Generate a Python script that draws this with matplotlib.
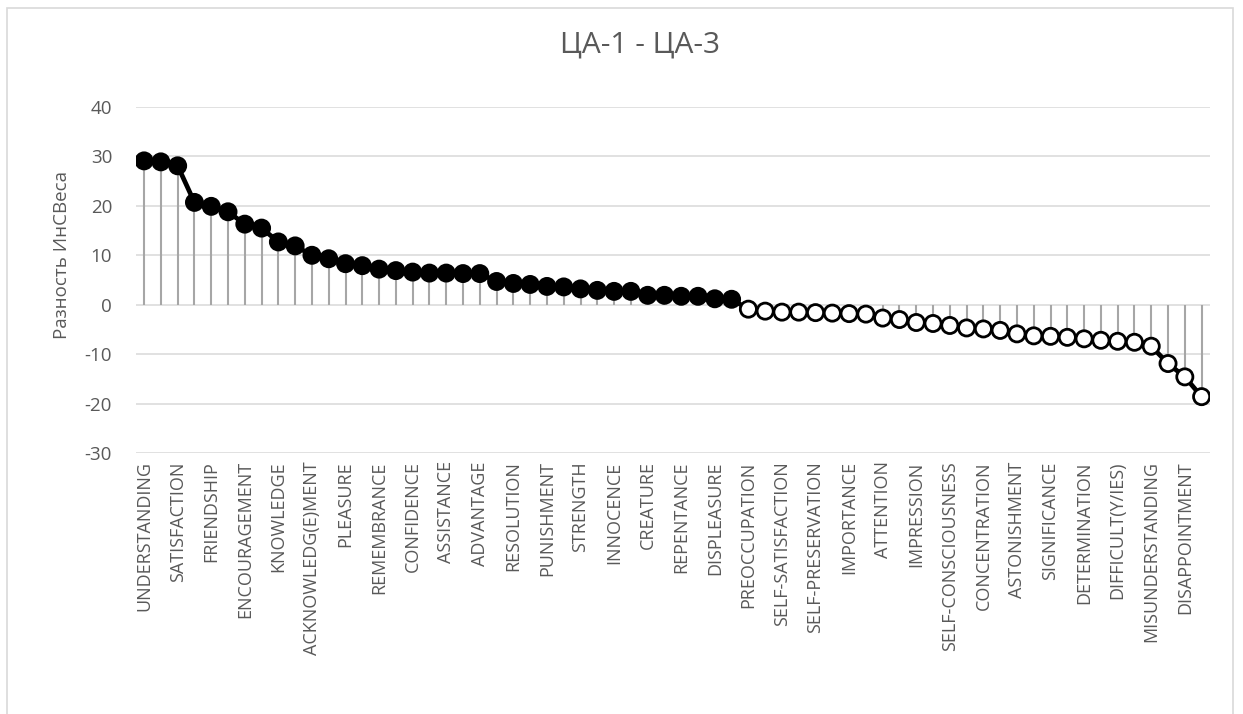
import matplotlib
matplotlib.use("Agg")
import matplotlib.pyplot as plt
from matplotlib.patches import Rectangle
import numpy as np

plt.rcParams['font.family'] = ['Open Sans', 'DejaVu Sans']

title = "ЦА-1 - ЦА-3"
ylabel = "Разность ИнСВеса"

# labels shown on every second category
tick_labels = [
    "UNDERSTANDING", "SATISFACTION", "FRIENDSHIP", "ENCOURAGEMENT", "KNOWLEDGE",
    "ACKNOWLEDG(E)MENT", "PLEASURE", "REMEMBRANCE", "CONFIDENCE", "ASSISTANCE",
    "ADVANTAGE", "RESOLUTION", "PUNISHMENT", "STRENGTH", "INNOCENCE", "CREATURE",
    "REPENTANCE", "DISPLEASURE", "PREOCCUPATION", "SELF-SATISFACTION",
    "SELF-PRESERVATION", "IMPORTANCE", "ATTENTION", "IMPRESSION",
    "SELF-CONSCIOUSNESS", "CONCENTRATION", "ASTONISHMENT", "SIGNIFICANCE",
    "DETERMINATION", "DIFFICULT(Y/IES)", "MISUNDERSTANDING", "DISAPPOINTMENT",
]

values = [
    29.1, 28.9, 28.1, 20.7, 19.9, 18.8, 16.3, 15.5, 12.7, 11.9,
    10.0, 9.3, 8.3, 7.9, 7.2, 6.9, 6.6, 6.4, 6.4, 6.3,
    6.3, 4.7, 4.3, 4.1, 3.7, 3.6, 3.2, 2.9, 2.7, 2.7,
    1.9, 1.9, 1.7, 1.7, 1.2, 1.1, -0.9, -1.3, -1.5, -1.5,
    -1.6, -1.7, -1.8, -1.9, -2.7, -3.0, -3.6, -3.8, -4.2, -4.7,
    -4.9, -5.2, -5.9, -6.3, -6.4, -6.6, -6.9, -7.2, -7.4, -7.6,
    -8.4, -11.9, -14.6, -18.6,
]

y_ticks = [40, 30, 20, 10, 0, -10, -20, -30]

fig = plt.figure(figsize=(12.43, 7.14), dpi=100)
fig.patches.append(Rectangle((7 / 1243, -0.05), 1226 / 1243, 1.05 - 8 / 714,
                             transform=fig.transFigure, fill=False,
                             edgecolor="#D9D9D9", linewidth=1.2))

ax = fig.add_axes([135.7 / 1243, 1 - 453 / 714, (1210 - 135.7) / 1243, 346 / 714])

x = np.arange(len(values))
vals = np.array(values)

# grid
for t in y_ticks:
    ax.axhline(t, color="#D9D9D9", linewidth=1.1, zorder=0)

# drop lines to zero
ax.vlines(x, 0, vals, color="#A6A6A6", linewidth=1.5, zorder=1)

# connecting line
ax.plot(x, vals, color="black", linewidth=3.4, zorder=2)

# markers: filled above zero, hollow below
face = ["black" if v >= 0 else "white" for v in values]
ax.scatter(x, vals, s=135, c=face, edgecolors="black", linewidths=2.0, zorder=3)

ax.set_xlim(-0.5, len(values) - 0.5)
ax.set_ylim(-30, 40)
ax.set_yticks(y_ticks)
ax.set_yticklabels([str(t) for t in y_ticks], fontsize=13.5, color="#595959")
ax.set_xticks(x[::2])
ax.set_xticklabels(tick_labels, rotation=90, fontsize=13, color="#595959")
ax.tick_params(axis="both", length=0)
ax.tick_params(axis="y", pad=17)
ax.tick_params(axis="x", pad=6)
for s in ax.spines.values():
    s.set_visible(False)

fig.text(62 / 1243, 1 - 255 / 714, ylabel, rotation=90, ha="center", va="center",
         fontsize=13.5, color="#595959")
fig.text(0.515, 1 - 45 / 714, title, ha="center", va="center",
         fontsize=21.5, color="#595959")

fig.savefig("out.png", dpi=100)
